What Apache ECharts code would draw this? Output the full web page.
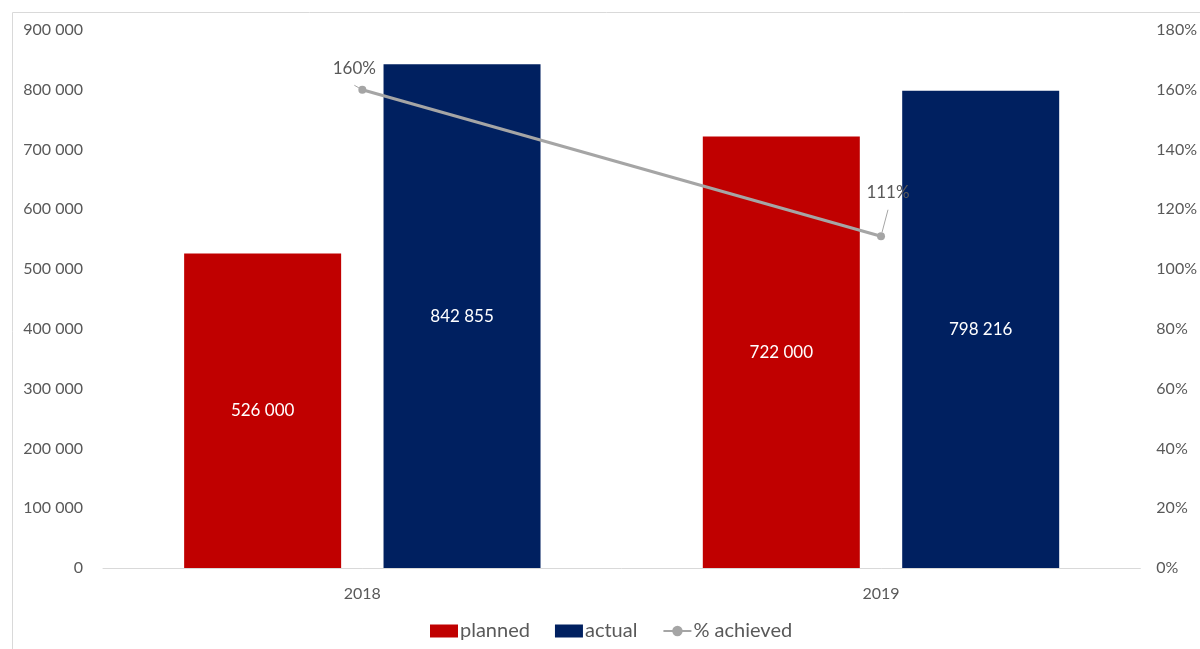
<!DOCTYPE html>
<html><head><meta charset="utf-8">
<script src="https://cdn.jsdelivr.net/npm/echarts@6/dist/echarts.min.js"></script>
<style>html,body{margin:0;padding:0;background:#fff}#c{width:1200px;height:649px}</style>
</head><body><div id="c"></div>
<script>
const categories = ['2018', '2019'];
const planned = [526000, 722000];
const actual = [842855, 798216];
const achieved = [1.60, 1.11];
const leftTicks = [0, 900000, 100000];
const rightTicks = [0, 1.8, 0.2];

const fmt = v => String(Math.round(v)).replace(/\B(?=(\d{3})+(?!\d))/g, ' ');
const FONT = 'Lato';
const GREY = '#595959';

const chart = echarts.init(document.getElementById('c'), null, {renderer: 'canvas'});
chart.setOption({
  animation: false,
  textStyle: {fontFamily: FONT},
  graphic: [{type: 'rect', shape: {x: 12.5, y: 12.5, width: 1300, height: 700}, style: {fill: 'none', stroke: '#d9d9d9', lineWidth: 1}, silent: true}],
  grid: {left: 103, right: 56, top: 30, bottom: 81},
  legend: {
    bottom: 3, left: 425, itemGap: 25, itemWidth: 28, itemHeight: 13,
    textStyle: {fontFamily: FONT, fontSize: 20, color: GREY, padding: [0, 0, 0, -3]},
    data: [{name: 'planned', icon: 'rect'}, {name: 'actual', icon: 'rect'}, {name: '% achieved'}]
  },
  xAxis: {
    type: 'category', data: categories,
    axisLine: {lineStyle: {color: '#d9d9d9', width: 1}},
    axisTick: {show: false},
    axisLabel: {fontFamily: FONT, fontSize: 16, color: GREY, margin: 18}
  },
  yAxis: [{
    type: 'value', min: leftTicks[0], max: leftTicks[1], interval: leftTicks[2],
    splitLine: {show: false}, axisLine: {show: false}, axisTick: {show: false},
    axisLabel: {fontFamily: FONT, fontSize: 16, color: GREY, margin: 20, formatter: fmt}
  }, {
    type: 'value', min: rightTicks[0], max: rightTicks[1], interval: rightTicks[2],
    splitLine: {show: false}, axisLine: {show: false}, axisTick: {show: false},
    axisLabel: {fontFamily: FONT, fontSize: 16, color: GREY, margin: 16, formatter: v => Math.round(v * 100) + '%'}
  }],
  series: [{
    name: 'planned', type: 'bar', data: planned, barWidth: 157, barGap: '27%',
    itemStyle: {color: '#C00000'},
    label: {show: true, position: 'inside', color: '#fff', fontFamily: FONT, fontSize: 17, formatter: p => fmt(p.value)}
  }, {
    name: 'actual', type: 'bar', data: actual, barWidth: 157, barGap: '27%',
    itemStyle: {color: '#002060'},
    label: {show: true, position: 'inside', color: '#fff', fontFamily: FONT, fontSize: 17, formatter: p => fmt(p.value)}
  }, {
    name: '% achieved', type: 'line', yAxisIndex: 1, data: [
      {value: achieved[0], label: {offset: [-8, -4]}},
      {value: achieved[1], label: {offset: [7, -26]}}
    ],
    symbol: 'circle', symbolSize: 8,
    lineStyle: {color: '#A5A5A5', width: 3},
    itemStyle: {color: '#A5A5A5'},
    label: {show: true, position: 'top', color: GREY, fontFamily: FONT, fontSize: 17, formatter: p => Math.round(p.value * 100) + '%'},
    labelLine: {show: true, lineStyle: {color: '#A5A5A5', width: 1}}
  }]
});
</script></body></html>
